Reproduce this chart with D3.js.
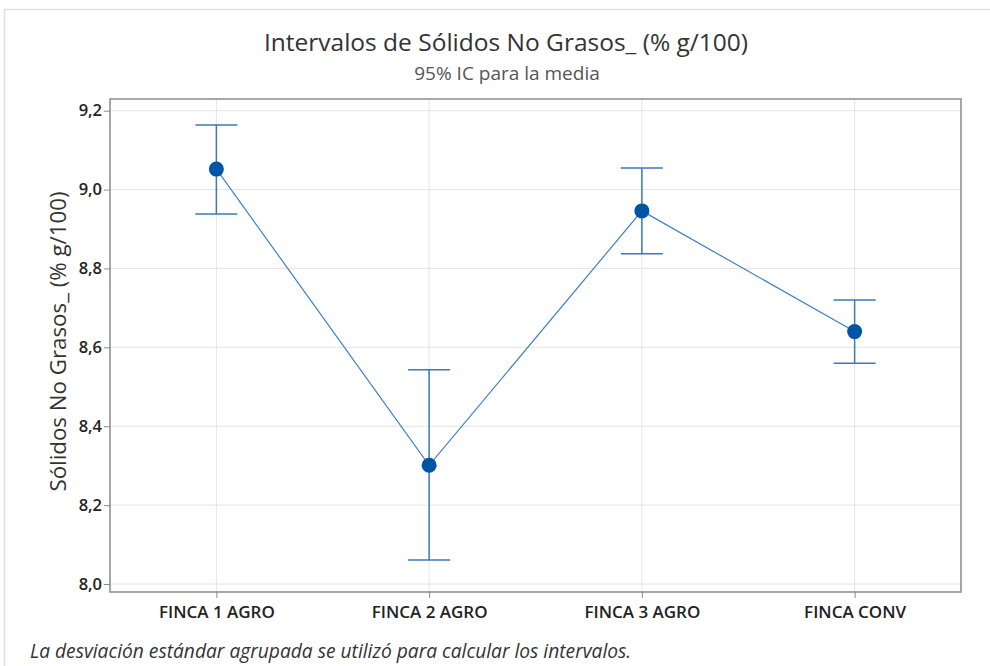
<!DOCTYPE html>
<html>
<head>
<meta charset="utf-8">
<script src="https://cdn.jsdelivr.net/npm/d3@7"></script>
<style>
  body { margin: 0; background: #fff; font-family: "Open Sans", "Noto Sans", sans-serif; }
  svg { display: block; }
</style>
</head>
<body>
<div id="container"><svg></svg></div>
<script>
// data
const categories = ['FINCA 1 AGRO', 'FINCA 2 AGRO', 'FINCA 3 AGRO', 'FINCA CONV'];
const means = [9.052, 8.301, 8.946, 8.640];
const lowers = [8.938, 8.061, 8.837, 8.560];
const uppers = [9.164, 8.543, 9.055, 8.720];
const yTicks = [8.0, 8.2, 8.4, 8.6, 8.8, 9.0, 9.2];

const width = 990, height = 666;
const plot = { left: 110, right: 961, top: 99, bottom: 592 };
const blue = '#0054a6';
const fmt = d => d.toFixed(1).replace('.', ',');

const svg = d3.select('#container').select('svg')
    .attr('width', width)
    .attr('height', height);

// outer frame (only top and left visible)
svg.append('path')
    .attr('d', `M4.5,${height} V9.5 H${width}`)
    .attr('fill', 'none')
    .attr('stroke', '#e0e0e0')
    .attr('stroke-width', 1.5);

const x = d3.scalePoint()
    .domain(categories)
    .range([plot.left, plot.right])
    .padding(0.5);

const y = d3.scaleLinear()
    .domain([8.0, 9.2])
    .range([584, 110.7]);

// gridlines
svg.append('g')
    .selectAll('line')
    .data(yTicks)
    .enter().append('line')
    .attr('x1', plot.left).attr('x2', plot.right)
    .attr('y1', d => y(d)).attr('y2', d => y(d))
    .attr('stroke', '#e4e4e4');
svg.append('g')
    .selectAll('line')
    .data(categories)
    .enter().append('line')
    .attr('x1', d => x(d)).attr('x2', d => x(d))
    .attr('y1', plot.top).attr('y2', plot.bottom)
    .attr('stroke', '#e4e4e4');

// axes
let axis_y = d3.axisLeft(y).tickValues(yTicks).tickFormat(fmt).tickSize(6).tickPadding(2);
let gy = svg.append('g')
    .attr('transform', `translate(${plot.left}, 0)`)
    .call(axis_y);
gy.select('.domain').remove();
gy.selectAll('line').attr('stroke', '#8a8a8a');
gy.selectAll('text')
    .attr('font-family', '"Open Sans", sans-serif')
    .attr('font-size', 16.5)
    .attr('font-weight', 600)
    .attr('fill', '#222');

let axis_x = d3.axisBottom(x).tickSize(6).tickPadding(8);
let gx = svg.append('g')
    .attr('transform', `translate(0, ${plot.bottom})`)
    .call(axis_x);
gx.select('.domain').remove();
gx.selectAll('line').attr('stroke', '#8a8a8a');
gx.selectAll('text')
    .attr('font-family', '"Open Sans", sans-serif')
    .attr('font-size', 17)
    .attr('font-weight', 600)
    .attr('fill', '#222');

// plot border
svg.append('rect')
    .attr('x', plot.left).attr('y', plot.top)
    .attr('width', plot.right - plot.left)
    .attr('height', plot.bottom - plot.top)
    .attr('fill', 'none')
    .attr('stroke', '#8a8a8a')
    .attr('stroke-width', 1.5);

// connecting line
const pts = categories.map((c, i) => ({ c: c, m: means[i], lo: lowers[i], hi: uppers[i] }));
svg.append('path')
    .datum(pts)
    .attr('d', d3.line().x(d => x(d.c)).y(d => y(d.m)))
    .attr('fill', 'none')
    .attr('stroke', '#3f7fc4')
    .attr('stroke-width', 1.2);

// intervals
let g = svg.append('g');
g.selectAll('.whisker')
    .data(pts)
    .enter().append('line')
    .attr('x1', d => x(d.c)).attr('x2', d => x(d.c))
    .attr('y1', d => y(d.hi)).attr('y2', d => y(d.lo))
    .attr('stroke', '#3d78bd').attr('stroke-width', 1.5);
g.selectAll('.cap-hi')
    .data(pts)
    .enter().append('line')
    .attr('x1', d => x(d.c) - 21).attr('x2', d => x(d.c) + 21)
    .attr('y1', d => y(d.hi)).attr('y2', d => y(d.hi))
    .attr('stroke', '#3d78bd').attr('stroke-width', 1.5);
g.selectAll('.cap-lo')
    .data(pts)
    .enter().append('line')
    .attr('x1', d => x(d.c) - 21).attr('x2', d => x(d.c) + 21)
    .attr('y1', d => y(d.lo)).attr('y2', d => y(d.lo))
    .attr('stroke', '#3d78bd').attr('stroke-width', 1.5);
g.selectAll('circle')
    .data(pts)
    .enter().append('circle')
    .attr('cx', d => x(d.c))
    .attr('cy', d => y(d.m))
    .attr('r', 7.5)
    .attr('fill', blue);

// titles
svg.append('text')
    .attr('x', 506).attr('y', 51)
    .attr('text-anchor', 'middle')
    .attr('font-size', 24.5)
    .attr('fill', '#333')
    .text('Intervalos de Sólidos No Grasos_ (% g/100)');
svg.append('text')
    .attr('x', 507).attr('y', 80)
    .attr('text-anchor', 'middle')
    .attr('font-size', 19)
    .attr('fill', '#555')
    .text('95% IC para la media');

svg.append('text')
    .attr('transform', `translate(66, ${(plot.top + plot.bottom) / 2 - 4}) rotate(-90)`)
    .attr('text-anchor', 'middle')
    .attr('font-size', 22.3)
    .attr('fill', '#333')
    .text('Sólidos No Grasos_ (% g/100)');

svg.append('text')
    .attr('x', 30).attr('y', 658)
    .attr('font-size', 19.2)
    .attr('font-style', 'italic')
    .attr('fill', '#333')
    .text('La desviación estándar agrupada se utilizó para calcular los intervalos.');
</script>
</body>
</html>
